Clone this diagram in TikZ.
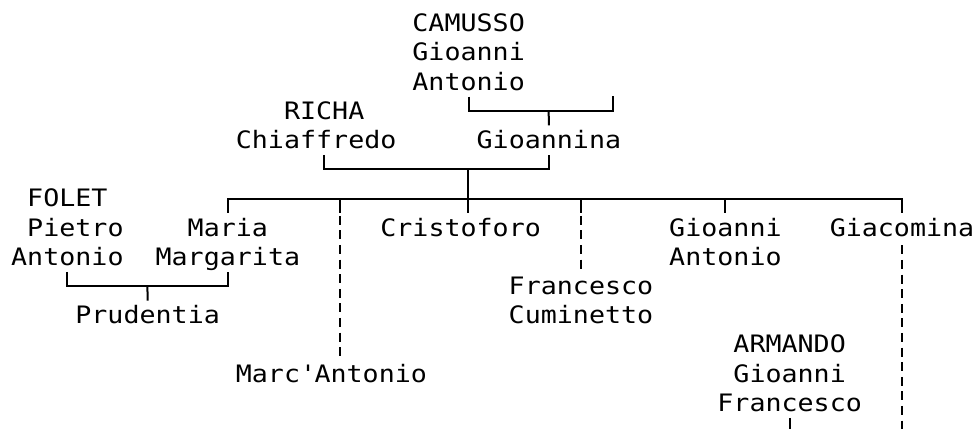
\documentclass[tikz,border=0pt]{standalone}
\usepackage{fontspec}
\newfontfamily\mono[FakeStretch=1.111]{DejaVu Sans Mono}
\begin{document}
\begin{tikzpicture}[x=16.05pt,y=-29.2pt]
            \tikzstyle{every node}+=[inner sep=0pt]
            \tikzstyle{person}=[anchor=west, text height=22.9pt, text depth=6.3pt, font={\mono\fontsize{24pt}{29.2pt}\selectfont}]
            \tikzstyle{link}=[black, line width=2pt]
            \tikzstyle{dlink}=[link, dash pattern=on 9pt off 5.6pt, dash phase=11.8pt]
                \useasboundingbox (-0.685,-0.801) rectangle (60.25,13.89);
                \node [person] (camusso1) at (25,0) {CAMUSSO};
                \node [person] (camusso2) at (25,1) {Gioanni};
                \node [person] (camusso3) at (25,2) {Antonio};
                \node [person] (richa1) at (17,3) {RICHA};
                \node [person] (richa2) at (14,4) {Chiaffredo};
                \node [person] (gioannina) at (29,4) {Gioannina};
                \node [person] (folet1) at (1,6) {FOLET};
                \node [person] (folet2) at (1,7) {Pietro};
                \node [person] (folet3) at (0,8) {Antonio};
                \node [person] (maria1) at (11,7) {Maria};
                \node [person] (maria2) at (9,8) {Margarita};
                \node [person] (cristoforo) at (23,7) {Cristoforo};
                \node [person] (gioanni1) at (41,7) {Gioanni};
                \node [person] (gioanni2) at (41,8) {Antonio};
                \node [person] (giacomina) at (51,7) {Giacomina};
                \node [person] (francesco1) at (31,9) {Francesco};
                \node [person] (francesco2) at (31,10) {Cuminetto};
                \node [person] (prudentia) at (4,10) {Prudentia};
                \node [person] (armando1) at (45,11) {ARMANDO};
                \node [person] (armando2) at (45,12) {Gioanni};
                \node [person] (armando3) at (44,13) {Francesco};
                \node [person] (marcantonio) at (14,12) {Marc\textquotesingle Antonio};
                % junctions
                \coordinate (w0) at (37.5,2.5);
                \coordinate (j1) at (33.5,3);
                \coordinate (h1) at (19.5,5);
                \coordinate (j2) at (28.5,5);
                \coordinate (j3) at (28.5,6);
                \coordinate (d1) at (20.5,6);
                \coordinate (j4) at (8.5,9);
                \coordinate (bot) at (0,13.89);
                % lines
                \draw [link] (camusso3.south) |- (j1) -| (w0);
                \draw [link] (j1) -- (gioannina.north);
                \draw [link] (h1 |- richa2.south) |- (j2) -| (gioannina.south);
                \draw [link] (j2) -- (j2 |- cristoforo.north);
                \draw [link] (maria1.north) |- (j3) -| (giacomina.north);
                \draw [link] (gioanni1.north) -- (gioanni1.north |- j3);
                \draw [link] (d1) -- (d1 |- cristoforo.north);
                \draw [dlink] (d1 |- cristoforo.north) -- (d1 |- marcantonio.north);
                \draw [link] (francesco1.north |- j3) -- (francesco1.north |- cristoforo.north);
                \draw [dlink] (francesco1.north |- cristoforo.north) -- (francesco1.north);
                \draw [dlink] (giacomina.south) -- (giacomina.south |- bot);
                \draw [link] (folet3.south) |- (j4) -| (maria2.south);
                \draw [link] (j4) -- (prudentia.north);
                \draw [link] (armando3.south) -- (armando3.south |- bot);
\end{tikzpicture}
\end{document}
